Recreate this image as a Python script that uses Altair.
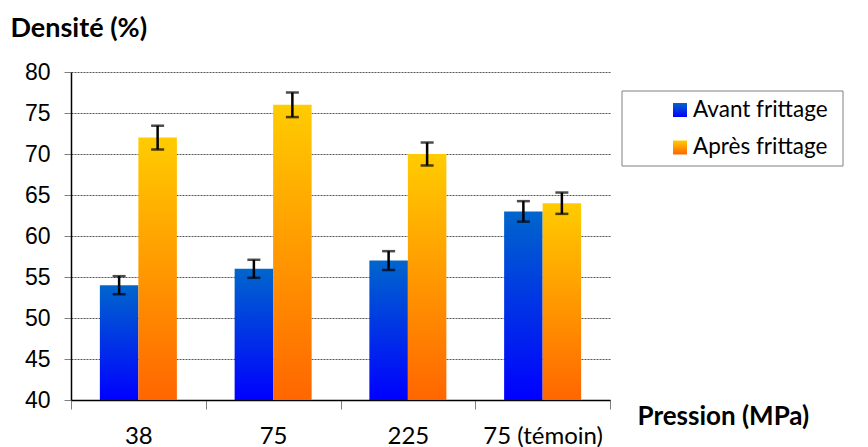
import altair as alt
import pandas as pd

pressions = ["38", "75", "225", "75 (témoin)"]
series = ["Avant frittage", "Après frittage"]
avant = [54, 56, 57, 63]
apres = [72, 76, 70, 64]
err_avant = [1.1, 1.1, 1.15, 1.25]
err_apres = [1.45, 1.5, 1.4, 1.3]
y_ticks = [40, 45, 50, 55, 60, 65, 70, 75, 80]

rows = []
for i, p in enumerate(pressions):
    rows.append(dict(p=p, s=series[0], v=avant[i], lo=avant[i] - err_avant[i], hi=avant[i] + err_avant[i]))
    rows.append(dict(p=p, s=series[1], v=apres[i], lo=apres[i] - err_apres[i], hi=apres[i] + err_apres[i]))
df = pd.DataFrame(rows)

BLUE = {"gradient": "linear", "x1": 0, "y1": 0, "x2": 0, "y2": 1,
        "stops": [{"offset": 0, "color": "#0066cc"}, {"offset": 1, "color": "#0000ff"}]}
ORANGE = {"gradient": "linear", "x1": 0, "y1": 0, "x2": 0, "y2": 1,
          "stops": [{"offset": 0, "color": "#ffcc00"}, {"offset": 1, "color": "#ff6600"}]}

CAL = "Lato"

x = alt.X("p:N", sort=pressions, title="Pression (MPa)",
          scale=alt.Scale(paddingInner=0, paddingOuter=0),
          axis=alt.Axis(tickBand="extent", labelAngle=0, labelFont=CAL, labelFontSize=24,
                        labelColor="black", labelPadding=15, tickSize=9, tickColor="#808080",
                        domainColor="black", domainWidth=1.5, grid=False,
                        titleX=566, titleY=24, titleAlign="left", titleBaseline="alphabetic",
                        titleFont=CAL, titleFontSize=26, titleFontWeight="bold", titleColor="black"))
xo = alt.XOffset("s:N", sort=series, scale=alt.Scale(paddingInner=0, paddingOuter=0.75))
yscale = alt.Scale(domain=[40, 80], nice=False, zero=False)
y = alt.Y("v:Q", scale=yscale,
          axis=alt.Axis(values=y_ticks, title="Densité (%)", titleAngle=0, titleAlign="left",
                        titleBaseline="alphabetic", titleX=-61, titleY=-36, titleFont=CAL,
                        titleFontSize=27, titleFontWeight="bold", titleColor="black",
                        labelFont="Liberation Sans", labelFontSize=23, labelColor="black",
                        labelPadding=14, tickSize=7, tickColor="#808080", domainColor="black",
                        domainWidth=1.5, grid=True, gridColor="#555555", gridDash=[2, 1],
                        gridWidth=1))

base = alt.Chart(df)
bars_a = base.transform_filter(alt.datum.s == series[0]).mark_bar(fill=BLUE).encode(
    x=x, xOffset=xo, y=y, y2=alt.datum(40))
bars_b = base.transform_filter(alt.datum.s == series[1]).mark_bar(fill=ORANGE).encode(
    x=x, xOffset=xo, y=y, y2=alt.datum(40))

err = base.mark_rule(color="black", strokeWidth=2.5).encode(
    x=x, xOffset=xo, y=alt.Y("lo:Q", scale=yscale), y2="hi:Q")
cap_lo = base.mark_tick(color="black", thickness=2.5, size=13, orient="horizontal").encode(
    x=x, xOffset=xo, y=alt.Y("lo:Q", scale=yscale))
cap_hi = base.mark_tick(color="black", thickness=2.5, size=13, orient="horizontal").encode(
    x=x, xOffset=xo, y=alt.Y("hi:Q", scale=yscale))

one = alt.Chart(pd.DataFrame({"k": [0]}))
leg_box = one.mark_rect(fill="white", stroke="#808080", strokeWidth=1).encode(
    x=alt.value(551), x2=alt.value(772), y=alt.value(19), y2=alt.value(94))
leg_sq_a = one.mark_square(size=196, fill=BLUE, opacity=1).encode(x=alt.value(609), y=alt.value(38))
leg_sq_b = one.mark_square(size=196, fill=ORANGE, opacity=1).encode(x=alt.value(609), y=alt.value(75.5))
leg_tx_a = one.mark_text(align="left", baseline="alphabetic", font=CAL, fontSize=22.5, color="black").encode(
    x=alt.value(622), y=alt.value(45), text=alt.value(series[0]))
leg_tx_b = one.mark_text(align="left", baseline="alphabetic", font=CAL, fontSize=22.5, color="black").encode(
    x=alt.value(622), y=alt.value(82), text=alt.value(series[1]))

chart = alt.layer(bars_a, bars_b, err, cap_lo, cap_hi,
                  leg_box, leg_sq_a, leg_sq_b, leg_tx_a, leg_tx_b).properties(
    width=539, height=328,
    autosize=alt.AutoSizeParams(type="none"),
    padding={"left": 63, "top": 64, "right": 250, "bottom": 47},
    background="white",
).configure_view(stroke=None)

chart.save("out.html", embed_options={"renderer": "svg", "actions": False})
